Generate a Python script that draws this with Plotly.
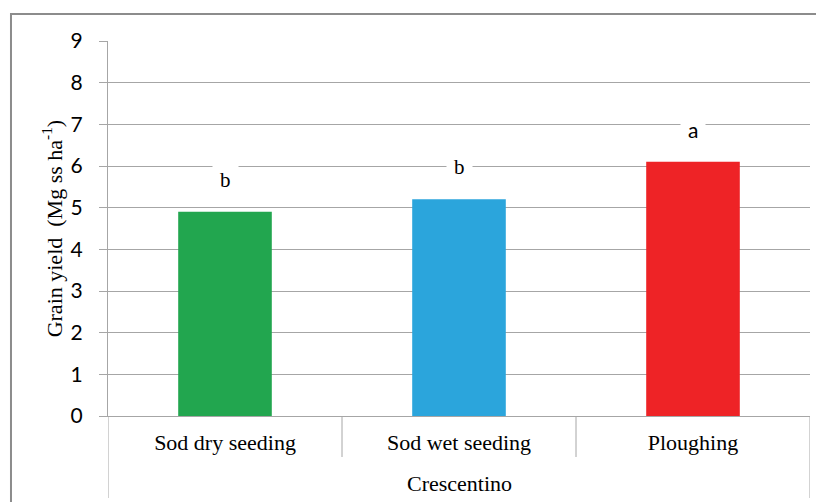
import plotly.graph_objects as go

categories = ["Sod dry seeding", "Sod wet seeding", "Ploughing"]
values = [4.9, 5.2, 6.1]
letters = ["b", "b", "a"]
letter_fonts = ["Liberation Serif", "Liberation Serif", "Lato"]
colors = ["#22A64F", "#2BA5DC", "#EE2326"]
group_label = "Crescentino"
y_title = "Grain yield  (Mg ss ha<sup>-1</sup>)"
y_ticks = list(range(0, 10))

GRID = "#A6A6A6"

fig = go.Figure()
fig.add_trace(go.Bar(x=categories, y=values, marker=dict(color=colors, line=dict(width=0)),
                     width=0.4, showlegend=False, hoverinfo="x+y"))

for i, (c, v, t) in enumerate(zip(categories, values, letters)):
    fig.add_annotation(x=c, y=v, text=t, showarrow=False, yshift=32, yanchor="middle",
                       font=dict(family=letter_fonts[i], size=21, color="black"),
                       bgcolor="white", borderpad=7)

fig.add_annotation(xref="paper", yref="paper", x=-0.08, y=0.5, text=y_title, textangle=-90,
                   xanchor="center", yanchor="middle", showarrow=False,
                   font=dict(family="Liberation Serif", size=22, color="black"))
fig.add_annotation(xref="paper", yref="paper", x=0.5, y=-0.181, text=group_label,
                   showarrow=False, yanchor="middle", xanchor="center",
                   font=dict(family="Liberation Serif", size=22, color="black"))

shapes = []
# outer chart border
shapes.append(dict(type="rect", xref="paper", yref="paper", x0=-0.1382, x1=1.04, y0=-0.3, y1=1.072,
                   line=dict(color="#8C8C8C", width=2), layer="below"))
# category separators
n = len(categories)
for k in range(n + 1):
    outer = k in (0, n)
    shapes.append(dict(type="line", xref="x", yref="paper", x0=k - 0.5, x1=k - 0.5,
                       y0=0, y1=-0.2187 if outer else -0.1093,
                       line=dict(color=GRID, width=1)))
fig.update_layout(shapes=shapes)

# page body has an 8px margin, so the figure is sized/offset to compensate
fig.update_layout(
    width=816, height=494,
    margin=dict(l=100, r=14, t=33, b=86),
    paper_bgcolor="white", plot_bgcolor="white",
    xaxis=dict(type="category", showgrid=False, ticks="", showline=True, linecolor=GRID, linewidth=1,
               tickfont=dict(family="Liberation Serif", size=22, color="black"),
               ticklabelstandoff=7, range=[-0.5, n - 0.5], fixedrange=True),
    yaxis=dict(range=[0, 9], tickvals=y_ticks, showgrid=True, gridcolor=GRID, gridwidth=1,
               showline=True, linecolor=GRID, linewidth=1, ticks="outside", ticklen=8, tickcolor=GRID,
               tickfont=dict(family="Lato", size=21, color="black"), zeroline=False,
               ticklabelstandoff=12),
)

fig.write_html("out.html")
